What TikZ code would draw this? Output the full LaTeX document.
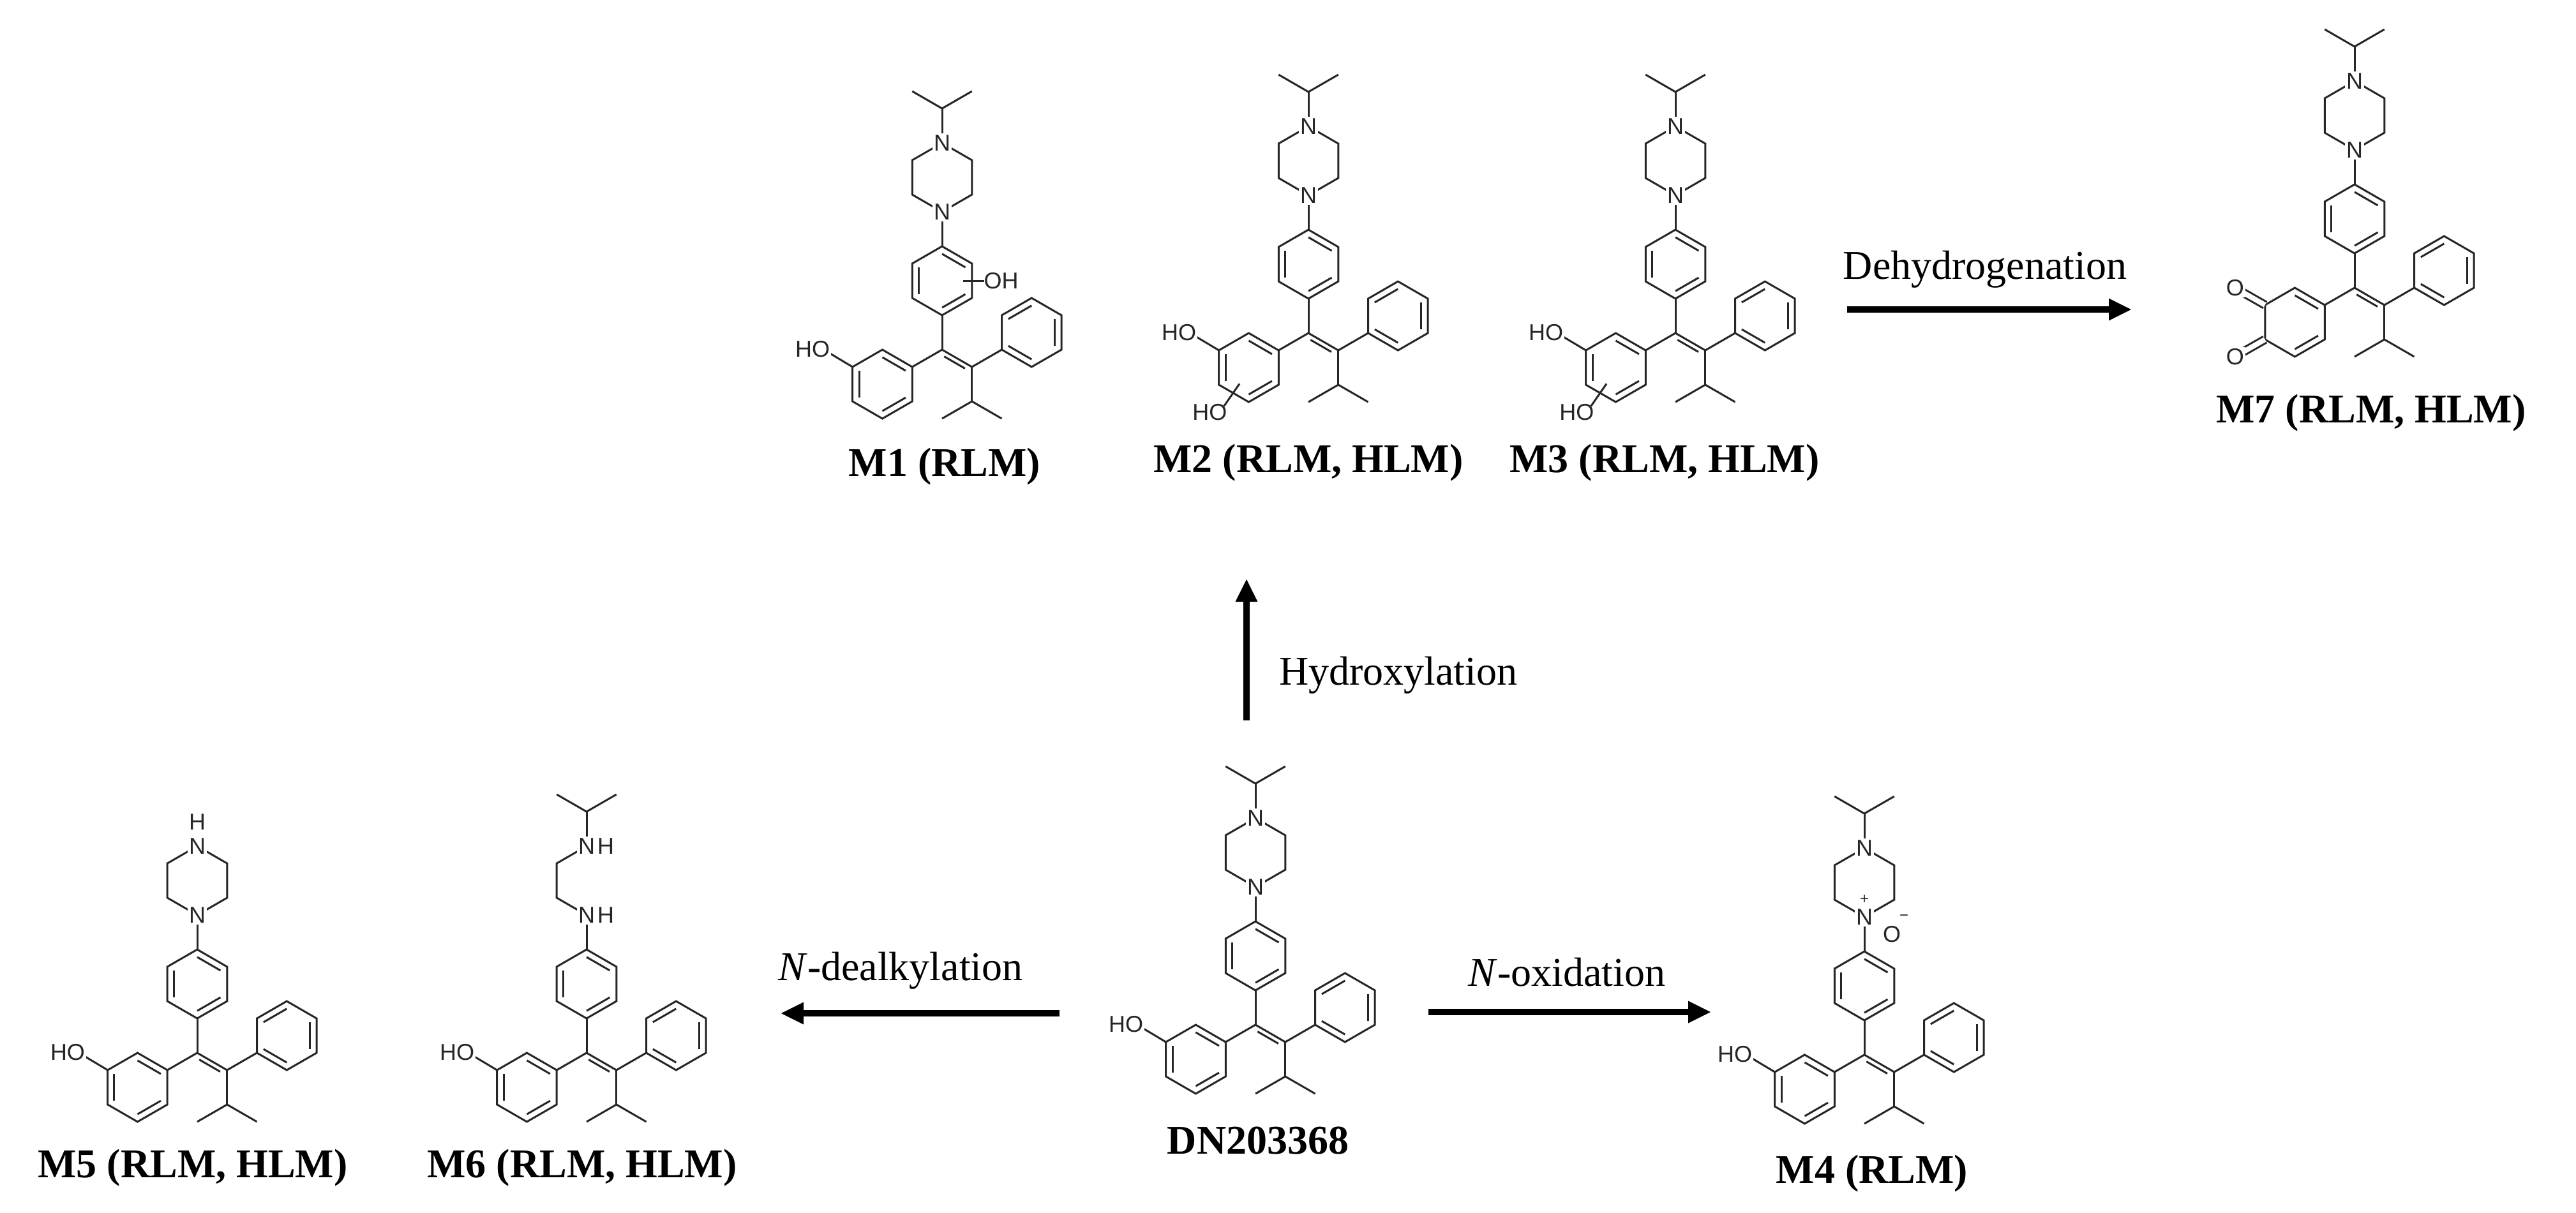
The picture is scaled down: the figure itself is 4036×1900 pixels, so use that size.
\documentclass[tikz,border=0pt]{standalone}
\usepackage{fontspec}
\setmainfont{Liberation Serif}
\newfontfamily\atomfont{Liberation Sans}
\usetikzlibrary{arrows.meta}
\tikzset{
 bond/.style={line width=0.75pt, black!85},
 atom/.style={font=\atomfont\fontsize{9}{10}\selectfont, fill=white, inner sep=0.6pt, text=black!85},
 chg/.style={font=\atomfont\fontsize{6}{7}\selectfont, inner sep=0pt, text=black!85},
 lbl/.style={font=\bfseries\fontsize{16}{18}\selectfont},
 rxn/.style={font=\fontsize{16}{18}\selectfont},
 arr/.style={line width=2.5pt, -{Triangle[length=9pt,width=8pt]}}
}
\newcommand\hexring[2]{%
 \begin{scope}[shift={#1}]
 \draw[bond] (30:1)--(90:1)--(150:1)--(210:1)--(270:1)--(330:1)--cycle;
 \foreach \a in {#2}{\draw[bond] (\a:0.78)--(\a+60:0.78);}
 \end{scope}}
\newcommand\core{%
 \draw[bond] (0,0)--(0,1);
 \draw[bond] (0,3)--(0,4);
 \draw[bond] (0,0)--(0.866,-0.5);
 \draw[bond] (0.060,-0.196)--(0.666,-0.546);
 \hexring{(0,2)}{30,270,150}
 \draw[bond] (0,0)--(-0.866,-0.5);
 \draw[bond] (0.866,-0.5)--(1.732,0);
 \hexring{(2.598,0.5)}{90,330,210}
 \draw[bond] (0.866,-0.5)--(0.866,-1.5);
 \draw[bond] (0,-2)--(0.866,-1.5)--(1.732,-2);
}
\newcommand\phenol[1]{%
 \hexring{(-1.732,-1)}{30,270,150}
 \draw[bond] (-2.598,-0.5)--(-3.35,-0.05);
 \node[atom,anchor=east] (#1ho) at (-3.2,0.02) {HO};
}
\newcommand\pipbonds{%
 \draw[bond] (0,4)--(0.866,4.5)--(0.866,5.5)--(0,6)--(-0.866,5.5)--(-0.866,4.5)--cycle;
}
\newcommand\ipr[1]{%
 \draw[bond] (0,#1)--(0,#1+1);
 \draw[bond] (-0.866,#1+1.5)--(0,#1+1)--(0.866,#1+1.5);
}
\begin{document}
\begin{tikzpicture}[x=0.25pt,y=-0.25pt]
\useasboundingbox (0,0) rectangle (4036,1900);

% DN203368
\begin{scope}[shift={(1967,1606)},x=13.5pt,y=13.5pt]
 \core \phenol{dn} \pipbonds \ipr{6}
 \node[atom] (dnN1) at (0,4) {N};
 \node[atom] (dnN4) at (0,6) {N};
\end{scope}

% M1
\begin{scope}[shift={(1476,548)},x=13.5pt,y=13.5pt]
 \core \phenol{ma} \pipbonds \ipr{6}
 \node[atom] (maN1) at (0,4) {N};
 \node[atom] (maN4) at (0,6) {N};
 \draw[bond] (0.62,2)--(1.22,2);
 \node[atom,anchor=west,fill=none,inner sep=0pt] (maoh) at (1.2,2) {OH};
\end{scope}

% M2
\begin{scope}[shift={(2050,522)},x=13.5pt,y=13.5pt]
 \core \phenol{mb} \pipbonds \ipr{6}
 \node[atom] (mbN1) at (0,4) {N};
 \node[atom] (mbN4) at (0,6) {N};
 \draw[bond] (-2.0,-1.47)--(-2.45,-2.12);
 \node[atom,anchor=north east,fill=none,inner sep=0pt] (mbho2) at (-2.35,-2.05) {HO};
\end{scope}

% M3
\begin{scope}[shift={(2625,522)},x=13.5pt,y=13.5pt]
 \core \phenol{mc} \pipbonds \ipr{6}
 \node[atom] (mcN1) at (0,4) {N};
 \node[atom] (mcN4) at (0,6) {N};
 \draw[bond] (-2.0,-1.47)--(-2.45,-2.12);
 \node[atom,anchor=north east,fill=none,inner sep=0pt] (mcho2) at (-2.35,-2.05) {HO};
\end{scope}

% M7
\begin{scope}[shift={(3689,451)},x=13.5pt,y=13.5pt]
 \core \pipbonds \ipr{6}
 \hexring{(-1.732,-1)}{30,270}
 \draw[bond,double,double distance=2pt] (-2.598,-0.5)--(-3.3,-0.1);
 \draw[bond,double,double distance=2pt] (-2.598,-1.5)--(-3.3,-1.9);
 \node[atom] (mgo1) at (-3.464,0) {O};
 \node[atom] (mgo2) at (-3.464,-2) {O};
 \node[atom] (mgN1) at (0,4) {N};
 \node[atom] (mgN4) at (0,6) {N};
\end{scope}

% M4
\begin{scope}[shift={(2921,1653)},x=13.5pt,y=13.5pt]
 \core \phenol{md} \pipbonds \ipr{6}
 \node[atom] (mdN1) at (0,4) {N};
 \node[atom] (mdN4) at (0,6) {N};
 \node[chg,fill=white] (mdplus) at (0,4.5) {+};
 \node[atom,fill=none] (mdo) at (0.8,3.5) {O};
 \node[chg] (mdminus) at (1.15,3.98) {\textminus};
\end{scope}

% M5
\begin{scope}[shift={(309,1650)},x=13.5pt,y=13.5pt]
 \core \phenol{me} \pipbonds
 \node[atom] (meN1) at (0,4) {N};
 \node[atom] (meN4) at (0,6) {N};
 \node[atom,fill=none] (meH) at (0,6.7) {H};
\end{scope}

% M6
\begin{scope}[shift={(919,1650)},x=13.5pt,y=13.5pt]
 \core \phenol{mf}
 \draw[bond] (0,4)--(-0.866,4.5)--(-0.866,5.5)--(0,6);
 \ipr{6}
 \node[atom] (mfN1) at (0,4) {N};
 \node[atom,anchor=west,fill=none,inner sep=0pt] (mfH1) at (mfN1.east) {H};
 \node[atom] (mfN2) at (0,6) {N};
 \node[atom,anchor=west,fill=none,inner sep=0pt] (mfH2) at (mfN2.east) {H};
\end{scope}

% labels
\node[lbl] (lDN) at (1971,1787) {DN203368};
\node[lbl] (lM1) at (1480,731) {M1 (RLM)};
\node[lbl] (lM2) at (2050,725) {M2 (RLM, HLM)};
\node[lbl] (lM3) at (2608,725) {M3 (RLM, HLM)};
\node[lbl] (lM7) at (3715,647) {M7 (RLM, HLM)};
\node[lbl] (lM4) at (2933,1839) {M4 (RLM)};
\node[lbl] (lM5) at (302,1830) {M5 (RLM, HLM)};
\node[lbl] (lM6) at (912,1830) {M6 (RLM, HLM)};

% arrows
\coordinate (hA) at (1953,1129); \coordinate (hB) at (1953,907);
\draw[arr] (hA)--(hB);
\node[rxn,anchor=west] (tH) at (1990,1058) {Hydroxylation};
\coordinate (dA) at (2894,485); \coordinate (dB) at (3340,485);
\draw[arr] (dA)--(dB);
\node[rxn] (tD) at (3110,422) {Dehydrogenation};
\coordinate (oA) at (2238,1586); \coordinate (oB) at (2681,1586);
\draw[arr] (oA)--(oB);
\node[rxn] (tO) at (2455,1524) {\textit{N}-oxidation};
\coordinate (kA) at (1660,1588); \coordinate (kB) at (1223,1588);
\draw[arr] (kA)--(kB);
\node[rxn] (tK) at (1411,1521) {\textit{N}-dealkylation};
\end{tikzpicture}
\end{document}
